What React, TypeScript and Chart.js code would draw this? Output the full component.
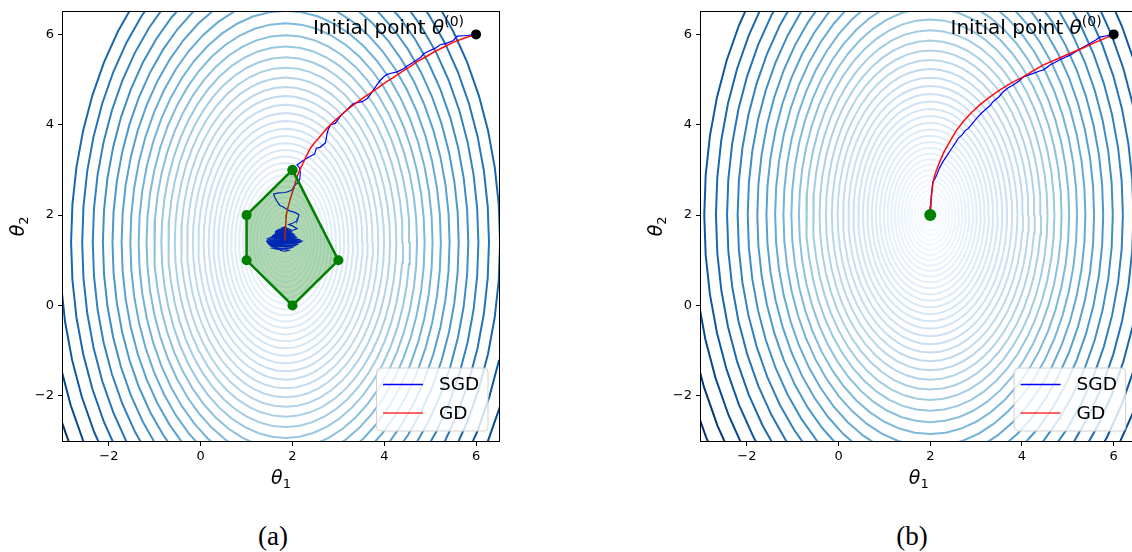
import React, { useEffect, useRef } from 'react';
import { Chart, registerables } from 'chart.js';

Chart.register(...registerables);

// ---------- data ----------
const AXIS_MIN = -3;
const AXIS_MAX = 6.5;
const xTicks = [-2, 0, 2, 4, 6];
const yTicks = [-2, 0, 2, 4, 6];

// contour level "radii" (along theta1) of the loss surface, outermost first
const contourRadii = [
  7.5, 7.119, 6.757, 6.413, 6.086, 5.775, 5.479, 5.197, 4.929, 4.674, 4.432, 4.201, 3.981, 3.772,
  3.573, 3.383, 3.202, 3.029, 2.864, 2.707, 2.557, 2.414, 2.277, 2.146, 2.021, 1.901, 1.786, 1.676,
  1.57, 1.468, 1.37, 1.276, 1.185, 1.097, 1.012, 0.93, 0.85, 0.772, 0.697, 0.623, 0.551, 0.481,
  0.412, 0.344, 0.277, 0.21, 0.144, 0.078,
];
const contourAspect = 1.6; // theta2 semi-axis / theta1 semi-axis
const contourCenterA = [1.85, 1.4];
const contourCenterB = [2.0, 2.0];

const initialPoint = [6, 6];

const polygonX = [2, 1, 1, 2, 3, 2];
const polygonY = [3, 2, 1, 0, 1, 3];

const gdPathA: number[][] = [
  [6.0, 6.0], [5.75, 5.92], [5.51, 5.83], [5.3, 5.72], [5.08, 5.61], [4.9, 5.5], [4.71, 5.39],
  [4.57, 5.29], [4.38, 5.17], [4.2, 5.05], [4.02, 4.93], [3.84, 4.8], [3.68, 4.69], [3.55, 4.6],
  [3.33, 4.44], [3.2, 4.34], [3.1, 4.25], [2.9, 4.07], [2.75, 3.92], [2.65, 3.8], [2.57, 3.7],
  [2.48, 3.6], [2.39, 3.48], [2.3, 3.3], [2.21, 3.11], [2.15, 2.98], [2.1, 2.85], [2.03, 2.6],
  [1.98, 2.45], [1.95, 2.35], [1.9, 2.16], [1.87, 2.02], [1.86, 1.9], [1.85, 1.72], [1.84, 1.55],
  [1.83, 1.43],
];

const sgdPathA: number[][] = [
  [6.0, 6.0], [5.84, 5.98], [5.72, 5.97], [5.59, 5.96], [5.5, 5.86], [5.35, 5.8], [5.22, 5.77],
  [5.12, 5.7], [5.08, 5.68], [4.95, 5.62], [4.86, 5.57], [4.8, 5.5], [4.75, 5.46], [4.64, 5.39],
  [4.5, 5.3], [4.42, 5.24], [4.28, 5.17], [4.15, 5.14], [4.05, 5.11], [3.98, 5.05], [3.92, 4.99],
  [3.85, 4.9], [3.81, 4.84], [3.72, 4.7], [3.63, 4.58], [3.52, 4.51], [3.33, 4.47], [3.25, 4.4],
  [3.19, 4.33], [3.1, 4.25], [3.04, 4.18], [2.93, 4.03], [2.83, 4.0], [2.78, 3.9], [2.75, 3.78],
  [2.72, 3.6], [2.6, 3.5], [2.52, 3.48], [2.48, 3.35], [2.35, 3.28], [2.21, 3.19], [2.1, 3.11],
  [2.15, 3.05], [2.17, 2.95], [2.16, 2.8], [2.12, 2.72], [2.06, 2.67], [1.98, 2.55], [1.85, 2.5],
  [1.7, 2.49], [1.59, 2.47], [1.62, 2.38], [1.66, 2.31], [1.72, 2.22], [1.8, 2.18], [1.92, 2.1],
  [2.05, 2.06], [2.14, 2.01], [2.12, 1.93], [2.1, 1.87], [2.0, 1.82], [1.92, 1.79], [2.02, 1.75],
  [2.1, 1.7], [2.0, 1.66], [1.9, 1.7],
  // dense wandering near the optimum
  [1.78, 1.72], [1.83, 1.74], [1.88, 1.71], [1.92, 1.69], [1.82, 1.7], [1.72, 1.68], [1.68, 1.66],
  [1.8, 1.67], [1.95, 1.65], [1.98, 1.63], [1.84, 1.62], [1.64, 1.64], [1.63, 1.6], [1.8, 1.61],
  [2.0, 1.59], [2.03, 1.57], [1.85, 1.56], [1.6, 1.57], [1.57, 1.54], [1.78, 1.55], [2.05, 1.53],
  [2.08, 1.51], [1.82, 1.5], [1.53, 1.51], [1.48, 1.49], [1.76, 1.49], [2.11, 1.47], [2.16, 1.45],
  [1.86, 1.44], [1.46, 1.46], [1.44, 1.42], [1.72, 1.43], [2.2, 1.42], [2.15, 1.39], [1.9, 1.38],
  [1.46, 1.39], [1.48, 1.36], [1.74, 1.37], [2.1, 1.35], [2.06, 1.33], [1.8, 1.32], [1.52, 1.33],
  [1.56, 1.3], [1.78, 1.31], [2.0, 1.29], [1.95, 1.27], [1.8, 1.26], [1.6, 1.26], [1.68, 1.24],
  [1.8, 1.25], [1.92, 1.22], [1.84, 1.2], [1.74, 1.22], [1.7, 1.26], [1.58, 1.29], [1.9, 1.3],
  [2.04, 1.31], [1.5, 1.345], [1.95, 1.355], [2.12, 1.37], [1.47, 1.375], [1.8, 1.395],
  [2.16, 1.4], [1.46, 1.41], [1.9, 1.425], [2.15, 1.43], [1.48, 1.44], [1.7, 1.46], [2.12, 1.46],
  [1.52, 1.49], [1.9, 1.485], [2.09, 1.5], [1.55, 1.52], [1.7, 1.535], [2.06, 1.54], [1.58, 1.555],
  [1.9, 1.57], [2.02, 1.58], [1.62, 1.585], [1.75, 1.6], [1.98, 1.61], [1.66, 1.62], [1.85, 1.64],
  [1.94, 1.64], [1.7, 1.655], [1.9, 1.68], [1.76, 1.69], [1.83, 1.7], [1.8, 1.45],
];

const gdPathB: number[][] = [
  [6.0, 6.0], [5.78, 5.9], [5.55, 5.8], [5.33, 5.7], [5.12, 5.61], [4.78, 5.46], [4.46, 5.32],
  [4.25, 5.2], [4.03, 5.06], [3.76, 4.92], [3.52, 4.77], [3.28, 4.6], [3.08, 4.44], [2.9, 4.27],
  [2.72, 4.07], [2.56, 3.86], [2.43, 3.63], [2.3, 3.4], [2.21, 3.19], [2.13, 2.98], [2.08, 2.82],
  [2.05, 2.64], [2.03, 2.45], [2.01, 2.2], [2.0, 2.0],
];

const sgdPathB: number[][] = [
  [6.0, 6.0], [5.85, 5.97], [5.7, 5.94], [5.62, 5.88], [5.45, 5.78], [5.3, 5.7], [5.05, 5.54],
  [4.85, 5.45], [4.62, 5.33], [4.46, 5.21], [4.42, 5.2], [4.2, 5.12], [4.03, 5.06], [3.95, 4.98],
  [3.81, 4.88], [3.7, 4.82], [3.59, 4.73], [3.5, 4.62], [3.37, 4.51], [3.3, 4.42], [3.23, 4.36],
  [3.12, 4.26], [3.01, 4.14], [2.92, 4.03], [2.83, 3.92], [2.75, 3.86], [2.7, 3.78], [2.61, 3.7],
  [2.55, 3.6], [2.47, 3.48], [2.38, 3.34], [2.28, 3.19], [2.2, 3.04], [2.14, 2.89], [2.1, 2.8],
  [2.06, 2.75], [2.04, 2.6], [2.02, 2.4], [2.01, 2.2], [2.0, 2.0],
];

const optimumB = [2, 2];

const legendLabels = ['SGD', 'GD'];
const legendColors = ['#0000ff', 'rgba(255,0,0,0.8)'];

// ---------- styling helpers ----------
const BLUES = ['#f7fbff', '#deebf7', '#c6dbef', '#9ecae1', '#6baed6', '#4292c6', '#2171b5', '#08519c', '#08306b'];
function hexToRgb(h: string) {
  return [parseInt(h.slice(1, 3), 16), parseInt(h.slice(3, 5), 16), parseInt(h.slice(5, 7), 16)];
}
function blues(t: number) {
  const tt = Math.max(0, Math.min(1, t)) * (BLUES.length - 1);
  const i = Math.min(BLUES.length - 2, Math.floor(tt));
  const f = tt - i;
  const a = hexToRgb(BLUES[i]);
  const b = hexToRgb(BLUES[i + 1]);
  const c = a.map((v, k) => Math.round(v + (b[k] - v) * f));
  return `rgb(${c[0]},${c[1]},${c[2]})`;
}
function ellipsePoints(center: number[], r: number) {
  const pts: { x: number; y: number }[] = [];
  const n = 56;
  for (let i = 0; i <= n; i++) {
    const a = (i / n) * Math.PI * 2;
    pts.push({ x: center[0] + r * Math.cos(a), y: center[1] + contourAspect * r * Math.sin(a) });
  }
  return pts;
}
const toXY = (arr: number[][]) => arr.map(([x, y]) => ({ x, y }));

const FONT = '"DejaVu Sans", sans-serif';

type Part = { text: string; font: string; dy?: number };
function drawParts(ctx: CanvasRenderingContext2D, parts: Part[], x: number, y: number, align: 'left' | 'center' | 'right') {
  let total = 0;
  for (const p of parts) {
    ctx.font = p.font;
    total += ctx.measureText(p.text).width;
  }
  let cx = align === 'left' ? x : align === 'center' ? x - total / 2 : x - total;
  ctx.textAlign = 'left';
  ctx.textBaseline = 'alphabetic';
  for (const p of parts) {
    ctx.font = p.font;
    ctx.fillText(p.text, cx, y + (p.dy || 0));
    cx += ctx.measureText(p.text).width;
  }
}

function makeOverlay(key: string) {
  return {
    id: 'overlay' + key,
    afterDraw(chart: any) {
      const ctx: CanvasRenderingContext2D = chart.ctx;
      const a = chart.chartArea;
      const xs = chart.scales.x;
      const ys = chart.scales.y;
      ctx.save();
      // spines
      ctx.strokeStyle = '#000';
      ctx.lineWidth = 1;
      ctx.strokeRect(Math.round(a.left) - 0.5, Math.round(a.top) - 0.5, Math.round(a.right - a.left) + 1, Math.round(a.bottom - a.top) + 1);

      ctx.fillStyle = '#000';
      // annotation
      const px = xs.getPixelForValue(initialPoint[0]);
      const py = ys.getPixelForValue(initialPoint[1]);
      drawParts(
        ctx,
        [
          { text: 'Initial point ', font: `20px ${FONT}` },
          { text: 'θ', font: `italic 20px ${FONT}` },
          { text: '(0)', font: `14px ${FONT}`, dy: -8 },
        ],
        px - 12,
        py - 0.5,
        'right'
      );

      // x-axis title
      drawParts(
        ctx,
        [
          { text: 'θ', font: `italic 19px ${FONT}` },
          { text: '1', font: `13px ${FONT}`, dy: 4 },
        ],
        (a.left + a.right) / 2,
        484,
        'center'
      );
      // y-axis title
      ctx.save();
      ctx.translate(a.left - 39, (a.top + a.bottom) / 2);
      ctx.rotate(-Math.PI / 2);
      drawParts(
        ctx,
        [
          { text: 'θ', font: `italic 19px ${FONT}` },
          { text: '2', font: `13px ${FONT}`, dy: 4 },
        ],
        0,
        0,
        'center'
      );
      ctx.restore();

      // legend
      const bx = a.right - 122.5;
      const by = a.bottom - 73;
      const bw = 111.5;
      const bh = 63;
      ctx.beginPath();
      const rr = 4;
      ctx.moveTo(bx + rr, by);
      ctx.lineTo(bx + bw - rr, by);
      ctx.quadraticCurveTo(bx + bw, by, bx + bw, by + rr);
      ctx.lineTo(bx + bw, by + bh - rr);
      ctx.quadraticCurveTo(bx + bw, by + bh, bx + bw - rr, by + bh);
      ctx.lineTo(bx + rr, by + bh);
      ctx.quadraticCurveTo(bx, by + bh, bx, by + bh - rr);
      ctx.lineTo(bx, by + rr);
      ctx.quadraticCurveTo(bx, by, bx + rr, by);
      ctx.closePath();
      ctx.fillStyle = 'rgba(255,255,255,0.8)';
      ctx.fill();
      ctx.strokeStyle = '#d0d0d0';
      ctx.lineWidth = 1;
      ctx.stroke();
      legendLabels.forEach((lab, i) => {
        const ly = by + 16.5 + i * 28.5;
        ctx.beginPath();
        ctx.moveTo(bx + 6.5, ly);
        ctx.lineTo(bx + 46.5, ly);
        ctx.strokeStyle = legendColors[i];
        ctx.lineWidth = 1.5;
        ctx.stroke();
        ctx.fillStyle = '#000';
        ctx.font = `18.5px ${FONT}`;
        ctx.textAlign = 'left';
        ctx.textBaseline = 'middle';
        ctx.fillText(lab, bx + 62.5, ly + 1);
      });
      ctx.restore();
    },
  };
}

type PanelCfg = {
  left: number;
  width: number;
  padRight: number;
  yAxisWidth: number;
  center: number[];
  sgd: number[][];
  gd: number[][];
  polygon: boolean;
  optimum?: number[];
  key: string;
};

function buildConfig(p: PanelCfg): any {
  const datasets: any[] = [];
  contourRadii.forEach((r) => {
    datasets.push({
      data: ellipsePoints(p.center, r),
      borderColor: blues(Math.pow(Math.min(1, r / 5.6), 1.3)),
      borderWidth: 2,
      pointRadius: 0,
      fill: false,
      tension: 0,
      order: 100,
      clip: 0,
    });
  });
  datasets.push({
    data: toXY(p.sgd),
    borderColor: '#0000ff',
    borderWidth: 1.2,
    pointRadius: 0,
    fill: false,
    tension: 0,
    order: 60,
  });
  datasets.push({
    data: toXY(p.gd),
    borderColor: 'rgba(255,0,0,0.95)',
    borderWidth: 1.5,
    pointRadius: 0,
    fill: false,
    tension: 0,
    order: 55,
  });
  if (p.polygon) {
    datasets.push({
      data: polygonX.map((x, i) => ({ x, y: polygonY[i] })),
      borderColor: '#008000',
      backgroundColor: 'rgba(0,128,0,0.3)',
      borderWidth: 2.5,
      pointRadius: 5,
      pointBackgroundColor: '#008000',
      pointBorderColor: '#008000',
      pointBorderWidth: 0,
      fill: 'shape',
      tension: 0,
      order: 50,
    });
  }
  datasets.push({
    data: [{ x: initialPoint[0], y: initialPoint[1] }],
    showLine: false,
    pointRadius: 5,
    pointBackgroundColor: '#000',
    pointBorderWidth: 0,
    order: 1,
  });
  if (p.optimum) {
    datasets.push({
      data: [{ x: p.optimum[0], y: p.optimum[1] }],
      showLine: false,
      pointRadius: 6,
      pointBackgroundColor: '#008000',
      pointBorderWidth: 0,
      order: 1,
    });
  }

  const tickFmt = (v: any) => (Number(v) < 0 ? '\u2212' + Math.abs(Number(v)) : String(v));

  return {
    type: 'line',
    data: { datasets },
    options: {
      responsive: false,
      animation: false,
      devicePixelRatio: 1,
      events: [],
      parsing: false,
      normalized: true,
      layout: { padding: { left: 0, right: p.padRight, top: 9, bottom: 0 } },
      plugins: { legend: { display: false }, tooltip: { enabled: false } },
      scales: {
        x: {
          type: 'linear',
          min: AXIS_MIN,
          max: AXIS_MAX,
          afterBuildTicks: (s: any) => {
            s.ticks = xTicks.map((v) => ({ value: v }));
          },
          afterFit: (s: any) => {
            s.height = 59;
          },
          ticks: { callback: tickFmt, color: '#000', font: { size: 13, family: FONT }, padding: 3, maxRotation: 0, autoSkip: false },
          grid: { drawOnChartArea: false, drawTicks: true, tickLength: 5, tickColor: '#000', tickWidth: 1 },
          border: { display: false },
        },
        y: {
          type: 'linear',
          min: AXIS_MIN,
          max: AXIS_MAX,
          afterBuildTicks: (s: any) => {
            s.ticks = yTicks.map((v) => ({ value: v }));
          },
          afterFit: (s: any) => {
            s.width = p.yAxisWidth;
          },
          ticks: { callback: tickFmt, color: '#000', font: { size: 13, family: FONT }, padding: 4, autoSkip: false },
          grid: { drawOnChartArea: false, drawTicks: true, tickLength: 5, tickColor: '#000', tickWidth: 1 },
          border: { display: false },
        },
      },
    },
    plugins: [makeOverlay(p.key)],
  };
}

const panelA: PanelCfg = {
  left: 0, width: 560, padRight: 61, yAxisWidth: 63, center: contourCenterA, sgd: sgdPathA, gd: gdPathA, polygon: true, key: 'a',
};
const panelB: PanelCfg = {
  left: 640, width: 520, padRight: 23.4, yAxisWidth: 61, center: contourCenterB, sgd: sgdPathB, gd: gdPathB, polygon: false, optimum: optimumB, key: 'b',
};

function Panel({ cfg }: { cfg: PanelCfg }) {
  const ref = useRef<HTMLCanvasElement>(null);
  useEffect(() => {
    const chart = new Chart(ref.current as HTMLCanvasElement, buildConfig(cfg));
    return () => chart.destroy();
  }, []);
  return (
    <canvas
      ref={ref}
      width={cfg.width}
      height={500}
      style={{ position: 'absolute', left: cfg.left, top: 0, width: cfg.width, height: 500 }}
    />
  );
}

const captionStyle = (cx: number): React.CSSProperties => ({
  position: 'absolute',
  left: cx - 50,
  width: 100,
  top: 520,
  height: 32,
  lineHeight: '32px',
  textAlign: 'center',
  fontFamily: '"Liberation Serif", "DejaVu Serif", serif',
  fontSize: 27,
  color: '#000',
});

export default function App() {
  return (
    <div
      style={{
        position: 'fixed',
        left: 0,
        top: 0,
        width: 1132,
        height: 552,
        overflow: 'hidden',
        background: '#fff',
      }}
    >
      <Panel cfg={panelA} />
      <Panel cfg={panelB} />
      <div style={captionStyle(273)}>(a)</div>
      <div style={captionStyle(912)}>(b)</div>
    </div>
  );
}
